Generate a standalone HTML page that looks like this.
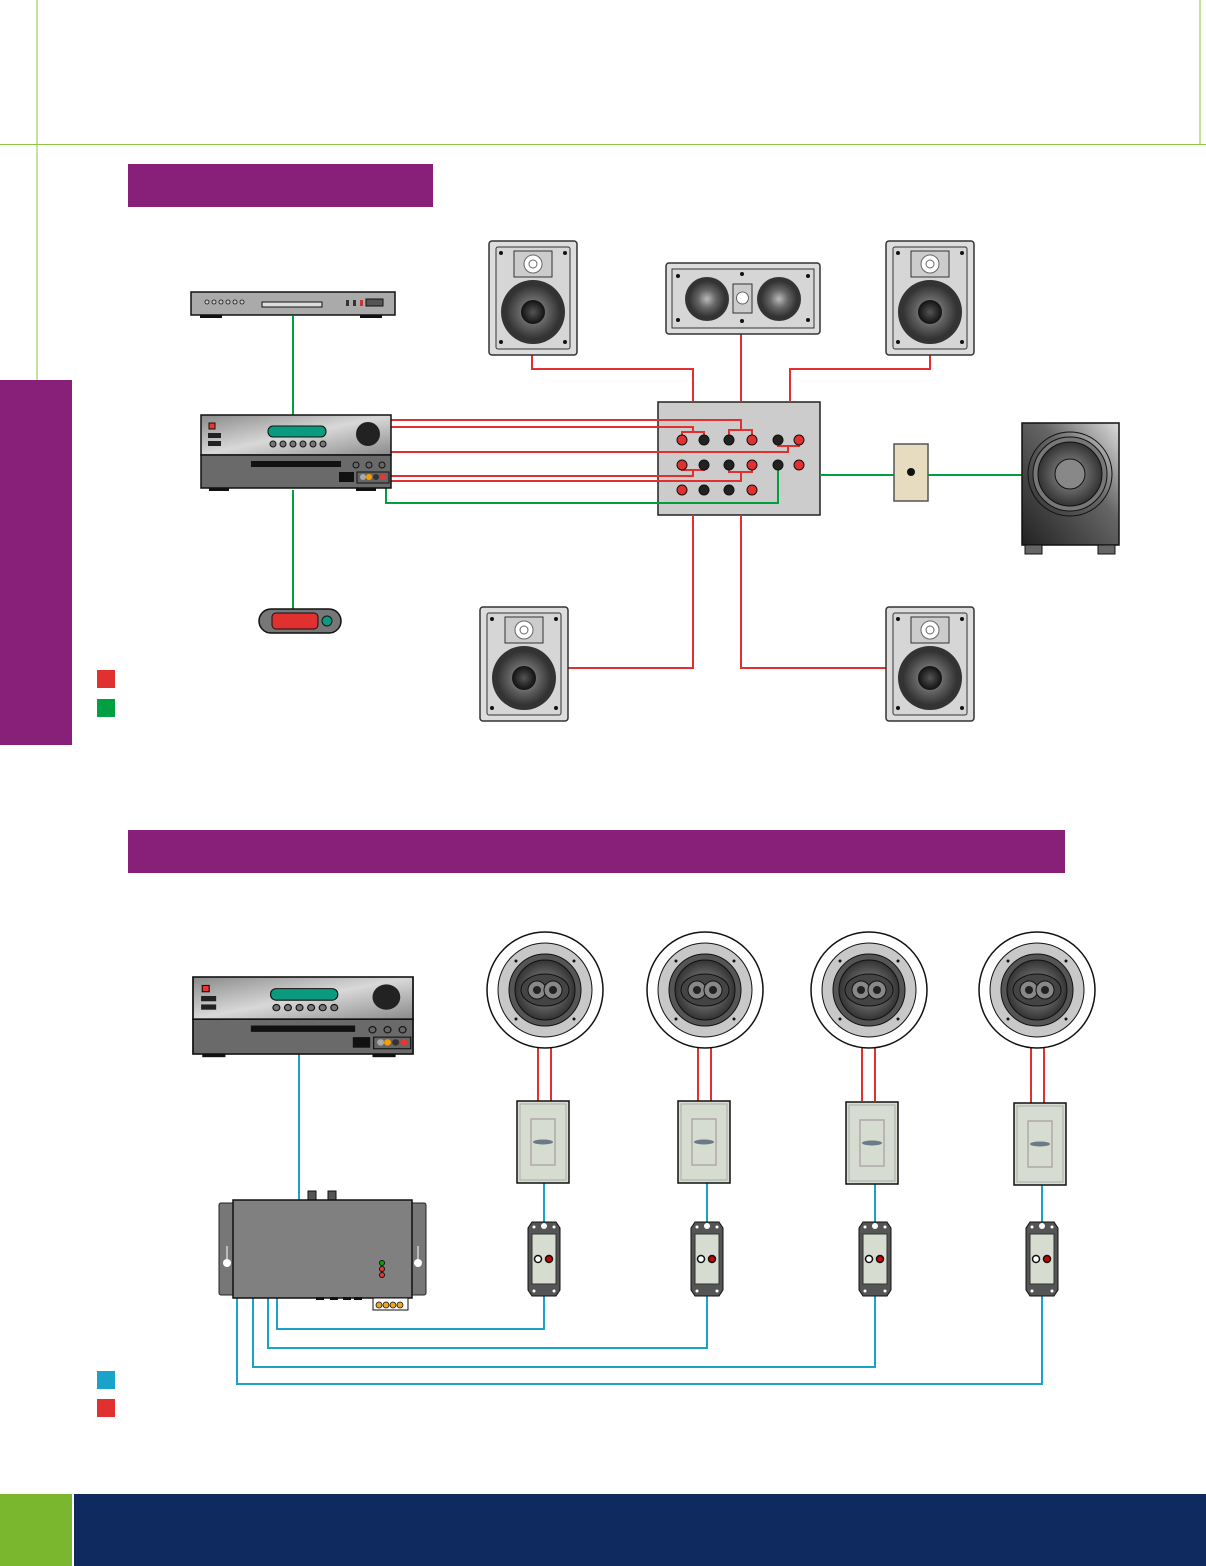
<!DOCTYPE html>
<html><head><meta charset="utf-8"><style>html,body{margin:0;padding:0;background:#fff}svg{display:block}</style></head>
<body>
<svg width="1206" height="1566" viewBox="0 0 1206 1566" xmlns="http://www.w3.org/2000/svg">
<defs>
<radialGradient id="wf" cx="50%" cy="50%" r="50%"><stop offset="0" stop-color="#bbb"/><stop offset="0.5" stop-color="#666"/><stop offset="1" stop-color="#333"/></radialGradient>
<radialGradient id="cone" cx="50%" cy="50%" r="50%"><stop offset="0" stop-color="#555"/><stop offset="1" stop-color="#111"/></radialGradient>
<linearGradient id="rcv" x1="0" y1="0" x2="1" y2="1"><stop offset="0" stop-color="#8a8a8a"/><stop offset="0.5" stop-color="#d8d8d8"/><stop offset="1" stop-color="#8a8a8a"/></linearGradient>
<linearGradient id="sub" x1="0" y1="1" x2="1" y2="0"><stop offset="0" stop-color="#222"/><stop offset="0.6" stop-color="#666"/><stop offset="1" stop-color="#ddd"/></linearGradient>
<g id="ws">
 <rect x="0" y="0" width="88" height="114" rx="3" fill="#ddd" stroke="#333" stroke-width="1.5"/>
 <rect x="7" y="6" width="74" height="102" rx="2" fill="#d6d6d6" stroke="#333"/>
 <rect x="25" y="10" width="38" height="26" fill="#ccc" stroke="#333"/>
 <circle cx="44" cy="23" r="9" fill="#fff" stroke="#666"/><circle cx="44" cy="23" r="4" fill="none" stroke="#666"/>
 <circle cx="44" cy="71" r="32" fill="#333"/><circle cx="44" cy="71" r="27" fill="url(#wf)"/><circle cx="44" cy="71" r="12" fill="url(#cone)"/>
 <circle cx="12" cy="12" r="2" fill="#111"/><circle cx="76" cy="12" r="2" fill="#111"/><circle cx="12" cy="101" r="2" fill="#111"/><circle cx="76" cy="101" r="2" fill="#111"/>
</g>
<g id="rc">
 <rect x="0" y="0" width="190" height="40" fill="url(#rcv)" stroke="#111" stroke-width="1.5"/>
 <rect x="0" y="40" width="190" height="33" fill="#6a6a6a" stroke="#111" stroke-width="1.5"/>
 <rect x="67" y="11" width="58" height="11" rx="5" fill="#0a9a80" stroke="#111"/>
 <g fill="#777" stroke="#111"><circle cx="72" cy="29" r="3"/><circle cx="82" cy="29" r="3"/><circle cx="92" cy="29" r="3"/><circle cx="102" cy="29" r="3"/><circle cx="112" cy="29" r="3"/><circle cx="122" cy="29" r="3"/></g>
 <circle cx="167" cy="19" r="12" fill="#222"/>
 <rect x="8" y="8" width="6" height="6" fill="#e33" stroke="#111"/>
 <rect x="7" y="18" width="13" height="5" fill="#222"/><rect x="7" y="26" width="13" height="5" fill="#222"/>
 <rect x="50" y="46" width="90" height="6" fill="#111"/>
 <g fill="#666" stroke="#111"><circle cx="155" cy="50" r="3"/><circle cx="168" cy="50" r="3"/><circle cx="181" cy="50" r="3"/></g>
 <rect x="138" y="57" width="15" height="10" fill="#111"/>
 <rect x="156" y="57" width="32" height="11" fill="#666" stroke="#111"/>
 <circle cx="162" cy="62" r="3" fill="#aaa"/><circle cx="168" cy="62" r="3" fill="#f5a000"/><circle cx="175" cy="62" r="3" fill="#333"/><circle cx="182" cy="62" r="3" fill="#e33"/>
 <rect x="8" y="73" width="20" height="3" fill="#111"/><rect x="155" y="73" width="20" height="3" fill="#111"/>
</g>
<g id="cs">
 <circle cx="0" cy="0" r="58" fill="#fff" stroke="#111" stroke-width="1.5"/>
 <circle cx="0" cy="0" r="47" fill="#c8c8c8" stroke="#111"/>
 <circle cx="0" cy="0" r="36" fill="#555" stroke="#111"/>
 <circle cx="0" cy="0" r="30" fill="url(#wf)" stroke="#111"/>
 <ellipse cx="0" cy="0" rx="24" ry="16" fill="#444" stroke="#111"/>
 <circle cx="-8" cy="0" r="9" fill="#888" stroke="#111"/><circle cx="8" cy="0" r="9" fill="#888" stroke="#111"/>
 <circle cx="-8" cy="0" r="4" fill="#222"/><circle cx="8" cy="0" r="4" fill="#222"/>
 <g fill="#111"><circle cx="-29" cy="-29" r="1.5"/><circle cx="29" cy="-29" r="1.5"/><circle cx="-29" cy="29" r="1.5"/><circle cx="29" cy="29" r="1.5"/></g>
</g>
<g id="dm">
 <rect x="0" y="0" width="52" height="82" fill="#d6ddd0" stroke="#111" stroke-width="1.5"/>
 <rect x="3" y="3" width="46" height="76" fill="none" stroke="#aaa"/>
 <rect x="14" y="18" width="24" height="46" fill="#d6ddd0" stroke="#b0a8a8" stroke-width="1.5"/>
 <ellipse cx="26" cy="41" rx="10" ry="2.5" fill="#6a7a88"/>
</g>
<g id="vj">
 <path d="M4,0 H28 L32,6 V68 L28,74 H4 L0,68 V6 Z" fill="#555" stroke="#111"/>
 <rect x="4" y="12" width="24" height="50" fill="#d6ddd0" stroke="#333"/>
 <circle cx="16" cy="4" r="3" fill="#fff"/><circle cx="6" cy="5" r="1.5" fill="#fff"/><circle cx="26" cy="5" r="1.5" fill="#fff"/>
 <circle cx="6" cy="69" r="1.5" fill="#fff"/><circle cx="26" cy="69" r="1.5" fill="#fff"/>
 <circle cx="10" cy="37" r="3.5" fill="#fff" stroke="#111" stroke-width="1.5"/><circle cx="21" cy="37" r="3.5" fill="#c00" stroke="#111" stroke-width="1.5"/>
</g>
</defs>

<line x1="37" y1="0" x2="37" y2="380" stroke="#8dc63f" stroke-width="1"/>
<line x1="0" y1="144.5" x2="1206" y2="144.5" stroke="#8dc63f" stroke-width="1"/>
<line x1="1200" y1="0" x2="1200" y2="144" stroke="#8dc63f" stroke-width="1"/>
<rect x="0" y="380" width="72" height="365" fill="#88207a"/>
<rect x="128" y="164" width="305" height="43" fill="#88207a"/>
<rect x="128" y="830" width="937" height="43" fill="#88207a"/>
<rect x="0" y="1494" width="72" height="72" fill="#7ab72f"/>
<rect x="74" y="1494" width="1132" height="72" fill="#0f2a5e"/>

<rect x="97" y="670" width="18" height="18" fill="#e03030"/>
<rect x="97" y="699" width="18" height="18" fill="#00a040"/>
<rect x="97" y="1371" width="18" height="18" fill="#1aa3c8"/>
<rect x="97" y="1399" width="18" height="18" fill="#e03030"/>

<!-- panel first -->
<rect x="658" y="402" width="162" height="113" fill="#ccc" stroke="#222" stroke-width="1.5"/>

<g stroke="#00a040" stroke-width="2" fill="none">
 <line x1="293" y1="316" x2="293" y2="415"/>
 <line x1="293" y1="490" x2="293" y2="609"/>
 <polyline points="386,488 386,503 778,503 778,465"/>
 <line x1="820" y1="475" x2="894" y2="475"/>
 <line x1="911" y1="475" x2="1022" y2="475"/>
</g>
<g stroke="#e03030" stroke-width="2" fill="none">
 <polyline points="390,420 741,420 741,430 729,430 729,440"/>
 <polyline points="741,430 752,430 752,440"/>
 <polyline points="390,427 693,427 693,432 682,432 682,440"/>
 <polyline points="693,432 704,432 704,440"/>
 <polyline points="390,452 788,452 788,446 778,446 778,440"/>
 <polyline points="788,446 799,446 799,440"/>
 <polyline points="390,476 693,476 693,470 682,470 682,465"/>
 <polyline points="693,470 704,470 704,465"/>
 <polyline points="390,481 741,481 741,472 729,472 729,465"/>
 <polyline points="741,472 752,472 752,465"/>
 <polyline points="532,355 532,369 693,369 693,402"/>
 <line x1="741" y1="334" x2="741" y2="402"/>
 <polyline points="930,355 930,369 790,369 790,402"/>
 <polyline points="568,668 693,668 693,515"/>
 <polyline points="888,668 741,668 741,515"/>
</g>

<rect x="191" y="292" width="204" height="23" fill="#aaa" stroke="#111" stroke-width="1.5"/>
<rect x="262" y="302" width="60" height="5" fill="#ddd" stroke="#111"/>
<g fill="#ccc" stroke="#111" stroke-width="0.8"><circle cx="207" cy="302" r="2"/><circle cx="214" cy="302" r="2"/><circle cx="221" cy="302" r="2"/><circle cx="228" cy="302" r="2"/><circle cx="235" cy="302" r="2"/><circle cx="242" cy="302" r="2"/></g>
<rect x="346" y="300" width="3" height="6" fill="#333"/><rect x="353" y="300" width="3" height="6" fill="#333"/><rect x="360" y="300" width="3" height="6" fill="#c33"/>
<rect x="366" y="299" width="17" height="7" fill="#555" stroke="#111"/>
<rect x="200" y="315" width="22" height="3" fill="#111"/><rect x="360" y="315" width="22" height="3" fill="#111"/>

<use href="#rc" x="201" y="415"/>
<rect x="259" y="609" width="82" height="24" rx="12" fill="#777" stroke="#111" stroke-width="1.5"/>
<rect x="272" y="613" width="46" height="16" rx="4" fill="#e03030" stroke="#111"/>
<circle cx="327" cy="621" r="5" fill="#0a9a80" stroke="#111"/>

<g stroke="#111" stroke-width="1">
 <circle cx="682" cy="440" r="5" fill="#e03030"/><circle cx="704" cy="440" r="5" fill="#222"/><circle cx="729" cy="440" r="5" fill="#222"/><circle cx="752" cy="440" r="5" fill="#e03030"/><circle cx="778" cy="440" r="5" fill="#222"/><circle cx="799" cy="440" r="5" fill="#e03030"/>
 <circle cx="682" cy="465" r="5" fill="#e03030"/><circle cx="704" cy="465" r="5" fill="#222"/><circle cx="729" cy="465" r="5" fill="#222"/><circle cx="752" cy="465" r="5" fill="#e03030"/><circle cx="778" cy="465" r="5" fill="#222"/><circle cx="799" cy="465" r="5" fill="#e03030"/>
 <circle cx="682" cy="490" r="5" fill="#e03030"/><circle cx="704" cy="490" r="5" fill="#222"/><circle cx="729" cy="490" r="5" fill="#222"/><circle cx="752" cy="490" r="5" fill="#e03030"/>
</g>

<use href="#ws" x="489" y="241"/>
<use href="#ws" x="886" y="241"/>
<use href="#ws" x="480" y="607"/>
<use href="#ws" x="886" y="607"/>
<rect x="666" y="263" width="154" height="71" rx="3" fill="#ddd" stroke="#333" stroke-width="1.5"/>
<rect x="672" y="269" width="142" height="59" fill="#d6d6d6" stroke="#333"/>
<circle cx="707" cy="299" r="22" fill="#333"/><circle cx="707" cy="299" r="18" fill="url(#wf)"/>
<circle cx="779" cy="299" r="22" fill="#333"/><circle cx="779" cy="299" r="18" fill="url(#wf)"/>
<rect x="733" y="284" width="19" height="29" fill="#ccc" stroke="#333"/><circle cx="742.5" cy="298" r="6" fill="#fff" stroke="#666"/>
<g fill="#111"><circle cx="678" cy="276" r="2"/><circle cx="808" cy="276" r="2"/><circle cx="678" cy="320" r="2"/><circle cx="808" cy="320" r="2"/><circle cx="742" cy="274" r="2"/><circle cx="742" cy="321" r="2"/></g>

<rect x="894" y="444" width="34" height="57" fill="#e8dcc0" stroke="#555" stroke-width="1.5"/>
<circle cx="911" cy="472" r="4" fill="#111"/>
<rect x="1022" y="423" width="97" height="122" fill="url(#sub)" stroke="#111" stroke-width="1.5"/>
<circle cx="1070" cy="474" r="42" fill="none" stroke="#111"/>
<circle cx="1070" cy="474" r="37" fill="#777" stroke="#111"/>
<circle cx="1070" cy="474" r="32" fill="url(#wf)" stroke="#111"/>
<circle cx="1070" cy="474" r="15" fill="#888" stroke="#111"/>
<rect x="1025" y="545" width="17" height="9" fill="#666" stroke="#111"/><rect x="1098" y="545" width="17" height="9" fill="#666" stroke="#111"/>

<g stroke="#1aa3c8" stroke-width="2" fill="none">
 <line x1="299" y1="1054" x2="299" y2="1200"/>
 <polyline points="277,1298 277,1329 544,1329 544,1296"/>
 <polyline points="268,1298 268,1348 707,1348 707,1296"/>
 <polyline points="253,1298 253,1367 875,1367 875,1296"/>
 <polyline points="237,1298 237,1384 1042,1384 1042,1296"/>
 <line x1="544" y1="1183" x2="544" y2="1222"/>
 <line x1="707" y1="1183" x2="707" y2="1222"/>
 <line x1="875" y1="1183" x2="875" y2="1222"/>
 <line x1="1042" y1="1183" x2="1042" y2="1222"/>
</g>
<g stroke="#e03030" stroke-width="2">
 <line x1="538" y1="1046" x2="538" y2="1101"/><line x1="551" y1="1046" x2="551" y2="1101"/>
 <line x1="698" y1="1046" x2="698" y2="1101"/><line x1="711" y1="1046" x2="711" y2="1101"/>
 <line x1="862" y1="1046" x2="862" y2="1101"/><line x1="875" y1="1046" x2="875" y2="1101"/>
 <line x1="1031" y1="1046" x2="1031" y2="1103"/><line x1="1044" y1="1046" x2="1044" y2="1103"/>
</g>

<use href="#rc" transform="translate(193,977) scale(1.158,1.055)"/>

<rect x="219" y="1203" width="16" height="92" rx="2" fill="#777" stroke="#222"/>
<rect x="410" y="1203" width="16" height="92" rx="2" fill="#777" stroke="#222"/>
<circle cx="227" cy="1263" r="4" fill="#fff"/><line x1="227" y1="1246" x2="227" y2="1262" stroke="#fff"/>
<circle cx="418" cy="1263" r="4" fill="#fff"/><line x1="418" y1="1246" x2="418" y2="1262" stroke="#fff"/>
<rect x="308" y="1191" width="8" height="9" fill="#555" stroke="#111"/><rect x="328" y="1191" width="8" height="9" fill="#555" stroke="#111"/>
<rect x="233" y="1200" width="179" height="98" fill="#808080" stroke="#111" stroke-width="1.5"/>
<circle cx="382" cy="1263" r="2.5" fill="#0a0" stroke="#111"/><circle cx="382" cy="1269" r="2.5" fill="#e33" stroke="#111"/><circle cx="382" cy="1275" r="2.5" fill="#e33" stroke="#111"/>
<rect x="316" y="1297" width="8" height="3" fill="#111"/><rect x="330" y="1297" width="8" height="3" fill="#111"/><rect x="343" y="1297" width="8" height="3" fill="#111"/><rect x="354" y="1297" width="8" height="3" fill="#111"/>
<rect x="373" y="1298" width="35" height="12" fill="#fff" stroke="#111"/>
<g fill="#e8a820" stroke="#111" stroke-width="0.8"><circle cx="379" cy="1305" r="3"/><circle cx="386" cy="1305" r="3"/><circle cx="393" cy="1305" r="3"/><circle cx="400" cy="1305" r="3"/></g>

<use href="#cs" x="545" y="990"/>
<use href="#cs" x="705" y="990"/>
<use href="#cs" x="869" y="990"/>
<use href="#cs" x="1037" y="990"/>
<use href="#dm" x="517" y="1101"/>
<use href="#dm" x="678" y="1101"/>
<use href="#dm" x="846" y="1102"/>
<use href="#dm" x="1014" y="1103"/>
<use href="#vj" x="528" y="1222"/>
<use href="#vj" x="691" y="1222"/>
<use href="#vj" x="859" y="1222"/>
<use href="#vj" x="1026" y="1222"/>
</svg>
</body></html>
